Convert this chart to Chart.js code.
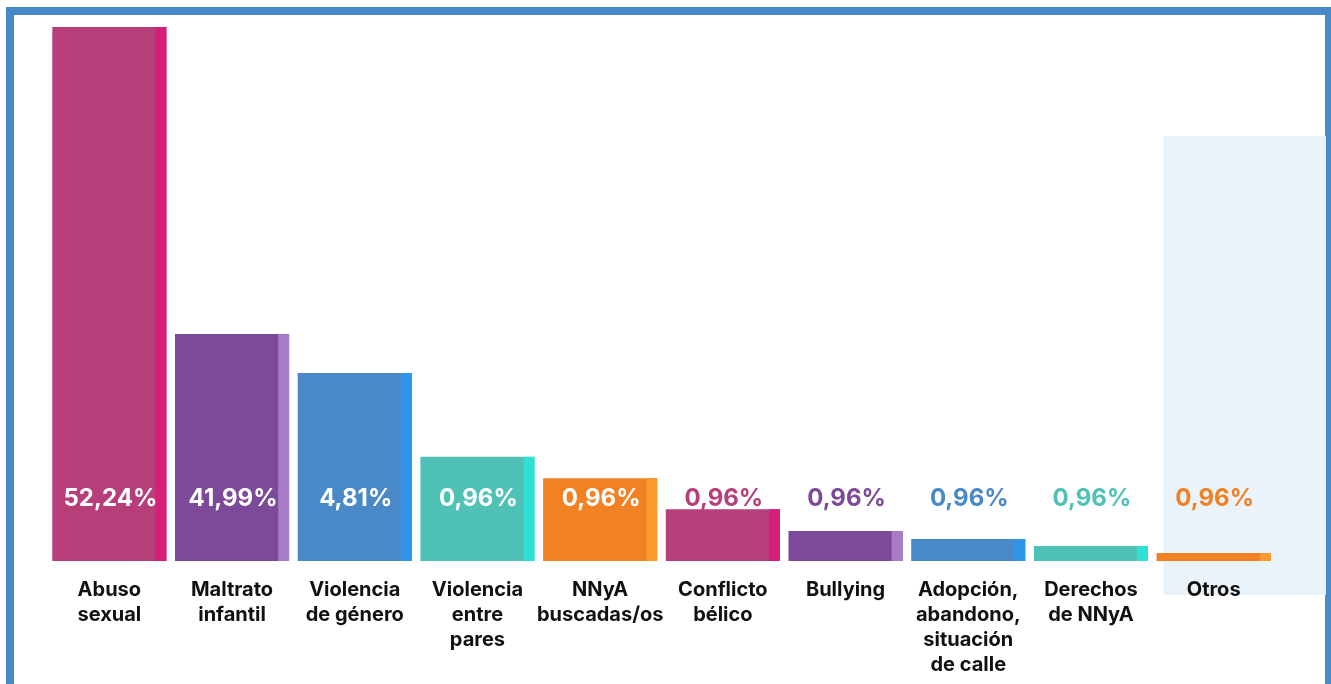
<!DOCTYPE html>
<html>
<head>
<meta charset="utf-8">
<script src="https://cdn.jsdelivr.net/npm/chart.js@4"></script>
<style>
  html, body { margin: 0; padding: 0; background: #fff; overflow: hidden; }
  #frame {
    position: absolute; left: 6px; top: 7px; width: 1311px; height: 700px;
    border: 8px solid #4a89c8; box-sizing: content-box;
  }
  #wrap { position: absolute; left: 0; top: 0; width: 1331px; height: 684px; }
</style>
</head>
<body>
<div id="frame"></div>
<div id="wrap"><canvas id="chart" width="1331" height="684"></canvas></div>
<script>
// Categories (multi-line labels) and values
const categories = [
  ['Abuso', 'sexual'],
  ['Maltrato', 'infantil'],
  ['Violencia', 'de género'],
  ['Violencia', 'entre', 'pares'],
  ['NNyA', 'buscadas/os'],
  ['Conflicto', 'bélico'],
  ['Bullying'],
  ['Adopción,', 'abandono,', 'situación', 'de calle'],
  ['Derechos', 'de NNyA'],
  ['Otros']
];
// bar heights as drawn (relative, tallest = 100)
const barHeights = [100, 42.5, 35.2, 19.5, 15.5, 9.7, 5.6, 4.1, 2.8, 1.5];
// text shown on each bar
const valueLabels = ['52,24%', '41,99%', '4,81%', '0,96%', '0,96%', '0,96%', '0,96%', '0,96%', '0,96%', '0,96%'];

// palette (main colour, accent stripe) repeats every 5 bars
const mainColors = ['#b63f7a', '#7d4a99', '#4a89c8', '#4fc1b7', '#f28123'];
const accentColors = ['#d61f78', '#a87bc6', '#2e95e8', '#2ee0d6', '#f89a2e'];
const barColors = categories.map((c, i) => mainColors[i % 5]);
const stripeColors = categories.map((c, i) => accentColors[i % 5]);

const FONT = "'Inter', 'Noto Sans', sans-serif";

// light highlight panel behind the last column
const highlightPlugin = {
  id: 'highlight',
  beforeDraw(chart) {
    const x = chart.scales.x, y = chart.scales.y;
    const last = categories.length - 1;
    const step = x.getPixelForValue(1) - x.getPixelForValue(0);
    const left = x.getPixelForValue(last) - step * 0.41;
    const top = y.getPixelForValue(79.6);
    const bottom = chart.chartArea.bottom + 34;
    const ctx = chart.ctx;
    ctx.save();
    ctx.fillStyle = '#ebf3fa';
    ctx.fillRect(left, top, chart.width - 5 - left, bottom - top);
    ctx.restore();
  }
};

// accent stripe on the right edge of each bar + value labels
const barDecorPlugin = {
  id: 'barDecor',
  afterDatasetsDraw(chart) {
    const ctx = chart.ctx;
    const meta = chart.getDatasetMeta(0);
    const labelY = chart.scales.y.getPixelForValue(12);
    ctx.save();
    meta.data.forEach((bar, i) => {
      const p = bar.getProps(['x', 'y', 'base', 'width'], true);
      const right = p.x + p.width / 2;
      const stripe = p.width * 0.096;
      ctx.fillStyle = stripeColors[i];
      ctx.fillRect(right - stripe, p.y, stripe, p.base - p.y);

      ctx.font = '700 24px ' + FONT;
      ctx.textAlign = 'center';
      ctx.textBaseline = 'middle';
      ctx.fillStyle = p.y < labelY - 16 ? '#ffffff' : barColors[i];
      ctx.fillText(valueLabels[i], p.x + 1, labelY + 2);
    });
    ctx.restore();
  }
};

const config = {
  type: 'bar',
  data: {
    labels: categories,
    datasets: [{
      data: barHeights,
      backgroundColor: barColors,
      borderWidth: 0,
      categoryPercentage: 0.93,
      barPercentage: 1
    }]
  },
  options: {
    responsive: false,
    animation: false,
    layout: { padding: { left: 48, right: 56, top: 27, bottom: 0 } },
    plugins: { legend: { display: false }, tooltip: { enabled: false } },
    scales: {
      y: { display: false, min: 0, max: 100 },
      x: {
        grid: { display: false, drawTicks: false },
        border: { display: false },
        ticks: {
          color: '#111111',
          padding: 16,
          maxRotation: 0,
          autoSkip: false,
          font: { family: FONT, size: 20, weight: '700', lineHeight: 1.25 }
        },
        afterFit(axis) { axis.height = 684 - 561; }
      }
    }
  },
  plugins: [highlightPlugin, barDecorPlugin]
};

new Chart(document.getElementById('chart'), config);
</script>
</body>
</html>
